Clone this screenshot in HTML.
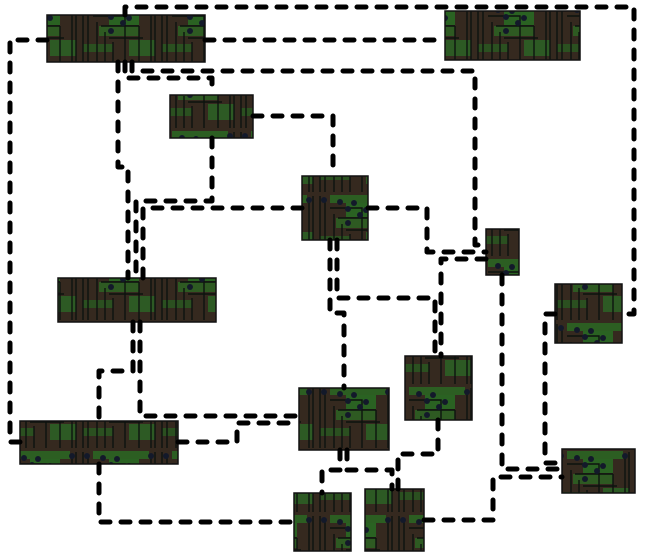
<!DOCTYPE html>
<html><head><meta charset="utf-8"><style>
html,body{margin:0;padding:0;background:#fff;width:645px;height:557px;overflow:hidden}
</style></head><body>
<svg width="645" height="557" xmlns="http://www.w3.org/2000/svg">
<defs>
<pattern id="pcb" width="79" height="64" patternUnits="userSpaceOnUse">
<rect width="79" height="64" fill="#35291f"/>
<rect x="14" y="3" width="56" height="8" fill="#2c5e22"/>
<rect x="30" y="11" width="30" height="14" fill="#2a6222"/>
<rect x="20" y="26" width="40" height="10" fill="#2e5a22"/>
<rect x="4" y="44" width="30" height="8" fill="#2b5020"/>
<rect x="50" y="40" width="26" height="16" fill="#2d5a24"/>
<g stroke="#0c120e" stroke-width="1.4" fill="none">
<path d="M4 4V64M9 10V64M14 16H46V64M18 22V64M22 26H60M26 32V64M30 38H64M34 42V64M72 6V64M76 4V64M60 26V64"/>
</g>
<g fill="#13192a">
<circle cx="8" cy="8" r="3"/><circle cx="24" cy="10" r="3"/><circle cx="32" cy="17" r="3"/>
<circle cx="38" cy="11" r="3"/><circle cx="44" cy="23" r="3"/><circle cx="50" cy="18" r="3"/>
<circle cx="32" cy="31" r="3"/><circle cx="72" cy="8" r="3"/>
</g>
</pattern>
</defs>
<g fill="url(#pcb)" stroke="#111" stroke-width="1.5">
<rect x="47" y="15" width="158" height="47"/>
<rect x="445" y="11" width="135" height="49"/>
<rect x="170" y="95" width="83" height="43"/>
<rect x="302" y="176" width="66" height="64"/>
<rect x="486" y="229" width="33" height="46"/>
<rect x="58" y="278" width="158" height="44"/>
<rect x="555" y="284" width="67" height="59"/>
<rect x="405" y="356" width="67" height="64"/>
<rect x="299" y="388" width="90" height="62"/>
<rect x="20" y="421" width="158" height="43"/>
<rect x="562" y="449" width="73" height="44"/>
<rect x="294" y="493" width="57" height="58"/>
<rect x="365" y="489" width="59" height="62"/>
</g>
<g fill="none" stroke="#000" stroke-width="5" stroke-dasharray="9 11" stroke-linecap="round" stroke-linejoin="round">
<path d="M47 40H10V442H20"/>
<path d="M125 15V7H634V314H622"/>
<path d="M205 40H445"/>
<path d="M118 62V167H128V278"/>
<path d="M132 62V71H475V245H486"/>
<path d="M125 62V78H212V95"/>
<path d="M253 116H333V176"/>
<path d="M212 138V201H136V278"/>
<path d="M302 208H143V278"/>
<path d="M368 208H427V252H486"/>
<path d="M486 259H441V356"/>
<path d="M330 240V313H344V388"/>
<path d="M337 240V298H435V356"/>
<path d="M133 322V371H99V421"/>
<path d="M140 322V416H299"/>
<path d="M178 442H237V423H299"/>
<path d="M99 464V522H294"/>
<path d="M340 450V470H322V493"/>
<path d="M347 450V470H392V489"/>
<path d="M438 420V454H398V489"/>
<path d="M424 520H493V477H562"/>
<path d="M502 275V469H562"/>
<path d="M555 314H545V463H562"/>
</g>
</svg>
</body></html>
